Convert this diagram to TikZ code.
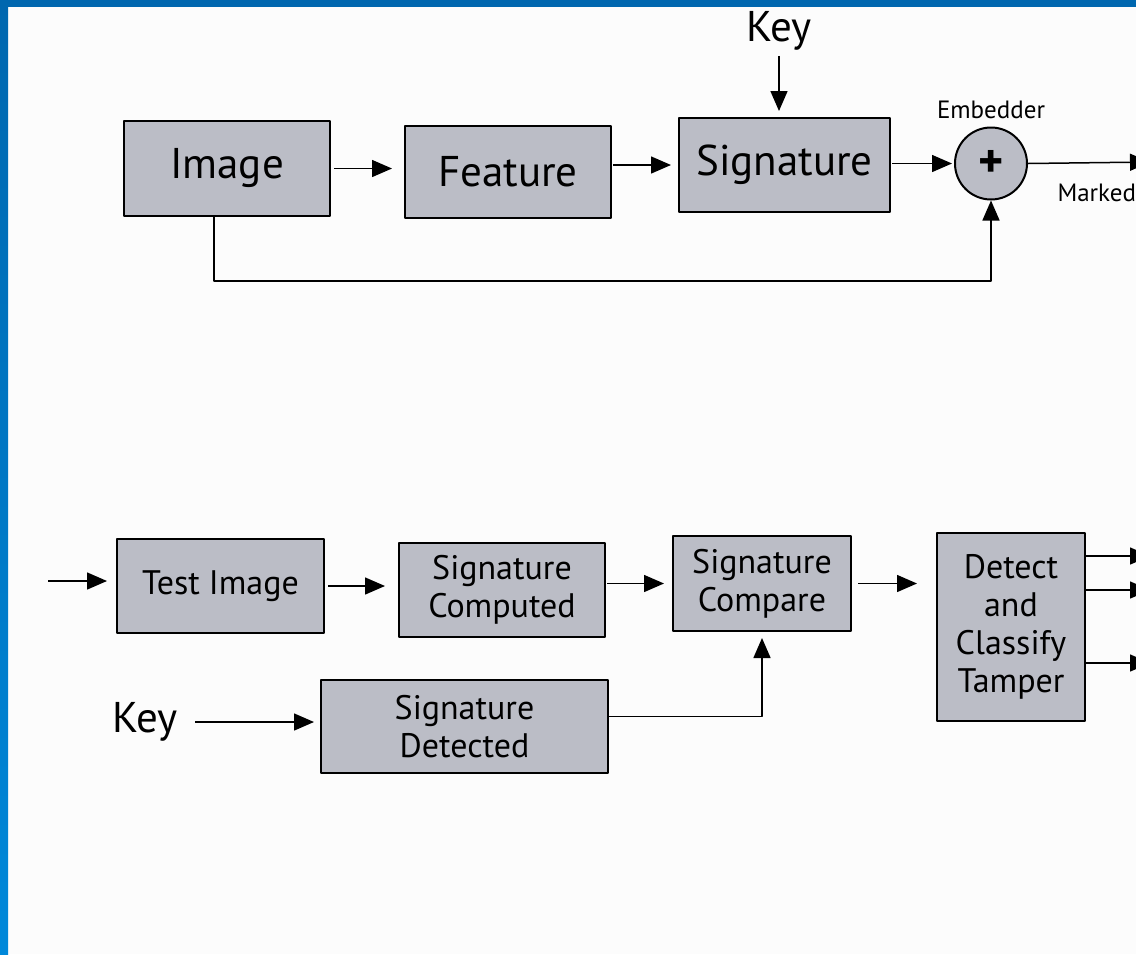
\documentclass[tikz,border=0pt]{standalone}
\usepackage{fontspec}
\setmainfont{PT Sans}
\usetikzlibrary{arrows.meta,positioning}

\definecolor{boxgray}{HTML}{BBBDC6}
\definecolor{slideblue}{HTML}{0067AF}
\definecolor{slidelight}{HTML}{0088DA}
\definecolor{paper}{HTML}{FCFCFC}

\begin{document}
\begin{tikzpicture}[
        x = 1pt, y = -1pt,
        line join=round,
        blockstyle/.style = {draw, line width=2pt, fill=boxgray, inner sep=0pt, align=center,
            font=\fontsize{34}{38}\selectfont},
        bigtext/.style = {font=\fontsize{43}{48}\selectfont},
        smalltext/.style = {font=\fontsize{25}{28}\selectfont},
        arrowstyle/.style = {line width=1.5pt, -{Triangle[length=20pt, width=17pt]}}
    ]

    \useasboundingbox (0, 0) rectangle (1136, 954);
    \fill[paper] (0, 0) rectangle (1136, 954);
    \shade[top color=slideblue, bottom color=slidelight] (0, 0) rectangle (8, 954);
    \fill[slideblue] (0, 0) rectangle (1136, 7);
    \clip (0, 0) rectangle (1136, 954);

    \node[blockstyle, bigtext, minimum width=206pt, minimum height=95pt] (img) at (227, 168.5) {Image};
    \node[blockstyle, bigtext, minimum width=206pt, minimum height=92pt] (feat) at (508, 172) {Feature};
    \node[blockstyle, bigtext, minimum width=211pt, minimum height=94pt] (sig) at (784.5, 165) {Signature};
    \node[draw, circle, line width=2pt, fill=boxgray, minimum size=72pt, inner sep=0pt,
        font=\fontsize{48}{48}\selectfont\bfseries] (emb) at (991, 163.5) {+};
    \node[smalltext, above=4pt of emb] (embname) {Embedder};
    \node[bigtext] (keytop) at (779, 31) {Key};
    \node[smalltext, anchor=west] (marked) at (1054, 193) {Marked};
    \coordinate (out) at (1150, 162);

    \draw[arrowstyle] (keytop.south) -- (keytop.south |- sig.north) [shorten <=2pt, shorten >=6pt];
    \draw[arrowstyle, shorten <=3pt, shorten >=12pt] (img.east) -- (img.east -| feat.west);
    \draw[arrowstyle, shorten <=1pt, shorten >=7pt] (feat.east |- sig.west) -- (sig.west);
    \draw[arrowstyle, shorten <=1pt, shorten >=2pt] (sig.east |- emb.west) -- (emb.west);
    \draw[arrowstyle] (emb.east) -- (out);
    \draw[arrowstyle] ([xshift=-13pt]img.south) -- ++(0, 64) -| (emb.south);

    \node[blockstyle, minimum width=207pt, minimum height=94pt] (test) at (220.5, 586) {Test Image};
    \node[blockstyle, minimum width=206pt, minimum height=94pt] (comp) at (502, 590) {Signature\\Computed};
    \node[blockstyle, minimum width=178pt, minimum height=95pt] (cmp) at (762, 583.5) {Signature\\Compare};
    \node[blockstyle, minimum width=148pt, minimum height=188pt] (det) at (1011, 627) {Detect\\and\\Classify\\Tamper};
    \node[blockstyle, minimum width=287pt, minimum height=93pt] (sigdet) at (464.5, 726.5) {Signature\\Detected};
    \node[bigtext] (keybot) at (145, 722) {Key};

    \coordinate (in) at (48, 581);
    \coordinate (o1) at (1150, 556);
    \coordinate (o2) at (1150, 590);
    \coordinate (o3) at (1150, 663);

    \draw[arrowstyle, shorten >=9pt] (in) -- (in -| test.west);
    \draw[arrowstyle, shorten <=3pt, shorten >=13pt] (test.east) -- (test.east -| comp.west);
    \draw[arrowstyle, shorten <=1pt, shorten >=8pt] (comp.east |- cmp.west) -- (cmp.west);
    \draw[arrowstyle, shorten <=6pt, shorten >=19pt] (cmp.east) -- (cmp.east -| det.west);
    \draw[arrowstyle, shorten <=14pt, shorten >=6pt] (keybot.east) -- (keybot.east -| sigdet.west);
    \draw[arrowstyle, shorten >=6pt] ([yshift=10pt]sigdet.east) -| (cmp.south);
    \draw[arrowstyle] (det.east |- o1) -- (o1);
    \draw[arrowstyle] (det.east |- o2) -- (o2);
    \draw[arrowstyle] (det.east |- o3) -- (o3);
\end{tikzpicture}
\end{document}
